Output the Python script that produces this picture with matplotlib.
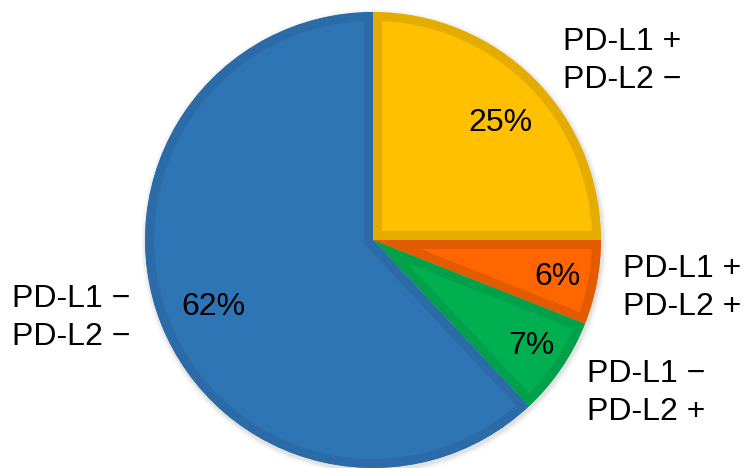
import matplotlib.pyplot as plt
from matplotlib.patches import Circle, Wedge

plt.rcParams['font.family'] = ['Liberation Sans', 'DejaVu Sans']

# data (clockwise from 12 o'clock)
shares = [25, 6, 7, 62]
pct_labels = ['25%', '6%', '7%', '62%']
group_labels = ['PD-L1 +\nPD-L2 \u2212', 'PD-L1 +\nPD-L2 +',
                'PD-L1 \u2212\nPD-L2 +', 'PD-L1 \u2212\nPD-L2 \u2212']
fills = ['#FFC000', '#FF6600', '#00B050', '#2E75B6']
borders = ['#E5AC00', '#E35B00', '#00A14A', '#2B6BA7']

W, H = 745, 468
fig = plt.figure(figsize=(W / 100, H / 100), dpi=100)
ax = fig.add_axes([0, 0, 1, 1])

cx, cy, r = 373, H - 240, 228

# faint shadow
for k, a in [(5, 0.05), (3, 0.08), (1.5, 0.10)]:
    ax.add_patch(Circle((cx + 1, cy - 2), r + k, color='gray', alpha=a, lw=0, zorder=0))

wedges, _ = ax.pie(shares, colors=fills, startangle=90, counterclock=False,
                   center=(cx, cy), radius=r, frame=True)
for w, ec in zip(wedges, borders):
    w.set_edgecolor(ec)
    w.set_linewidth(13)
    w.set_zorder(2)
    # keep only the inner half of the outline
    clip = Wedge(w.center, w.r, w.theta1, w.theta2, transform=ax.transData)
    w.set_clip_path(clip)
    w.set_clip_on(True)

ax.set_xlim(0, W)
ax.set_ylim(0, H)
ax.set_aspect('equal')
ax.axis('off')

fs = 23
pct_pos = [(500, 123), (558, 277), (531, 346), (213, 307)]
for (x, y), t in zip(pct_pos, pct_labels):
    ax.text(x, H - y, t, fontsize=fs, ha='center', va='center', zorder=5)

lab_pos = [(563, 61), (623, 288), (587, 393), (12, 318)]
for (x, y), t in zip(lab_pos, group_labels):
    ax.text(x, H - y, t, fontsize=fs, ha='left', va='center',
            linespacing=1.32, zorder=5)

fig.savefig('out.png', dpi=100)
